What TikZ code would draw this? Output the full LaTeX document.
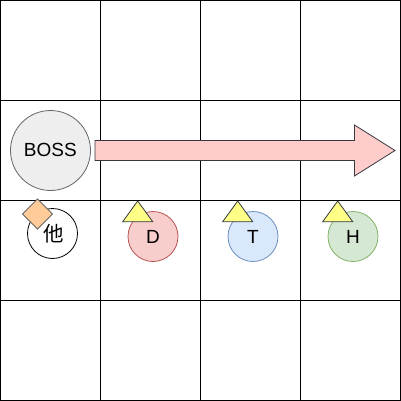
\documentclass[tikz,border=0pt]{standalone}
\usepackage{fontspec}
\setmainfont{Liberation Sans}
\newfontfamily\cjk{Noto Sans CJK SC}
\newcommand{\lbl}[1]{{\fontsize{19}{19}\selectfont #1}}
\begin{document}
\begin{tikzpicture}[x=1pt,y=-1pt,
  gridline/.style={draw=black,line width=1pt},
  circ/.style={circle,inner sep=0pt,minimum size=50pt,line width=0.8pt},
  ]
\definecolor{bossfill}{HTML}{EEEEEE}
\definecolor{bossline}{HTML}{666666}
\definecolor{arrfill}{HTML}{FFCCCC}
\definecolor{arrline}{HTML}{36393D}
\definecolor{dfill}{HTML}{F8CECC}\definecolor{dline}{HTML}{B85450}
\definecolor{tfill}{HTML}{DAE8FC}\definecolor{tline}{HTML}{6C8EBF}
\definecolor{hfill}{HTML}{D5E8D4}\definecolor{hline}{HTML}{82B366}
\definecolor{ofill}{HTML}{FFCC99}
\definecolor{yfill}{HTML}{FFFF88}
\useasboundingbox (0,0) rectangle (401,401);
\fill[white] (0,0) rectangle (401,401);
\foreach \v in {0.5,100.5,200.5,300.5,400.5}{
  \draw[gridline] (\v,0) -- (\v,401);
  \draw[gridline] (0,\v) -- (401,\v);
}
% arrow
\draw[fill=arrfill,draw=arrline,line width=0.8pt,line join=miter]
  (95,140.5) -- (354.5,140.5) -- (354.5,125) -- (395,150.5) -- (354.5,176) -- (354.5,160.5) -- (95,160.5) -- cycle;
% boss
\node[circ,minimum size=80pt,fill=bossfill,draw=bossline] (boss) at (50.5,150.5) {};
\node (bosslabel) at (50.3,150) {\lbl{BOSS}};
% other
\node[circ,fill=white,draw=black] (other) at (52.5,233.5) {};
\node (otherlabel) at (53.5,233.5) {\cjk\fontsize{20.5}{20.5}\selectfont 他};
\draw[fill=ofill,draw=bossline,line width=0.8pt] (37.5,199) -- (52.5,214) -- (37.5,229) -- (22.5,214) -- cycle;
% D T H
\node[circ,fill=dfill,draw=dline] (d) at (153,236.5) {\lbl{D}};
\node[circ,fill=tfill,draw=tline] (t) at (253,236.5) {\lbl{T}};
\node[circ,fill=hfill,draw=hline] (h) at (353,236.5) {\lbl{H}};
\foreach \x in {137.7,237.7,337.7}{
  \draw[fill=yfill,draw=arrline,line width=0.8pt] (\x,201) -- (\x+15,221.7) -- (\x-15,221.7) -- cycle;
}
\end{tikzpicture}
\end{document}
